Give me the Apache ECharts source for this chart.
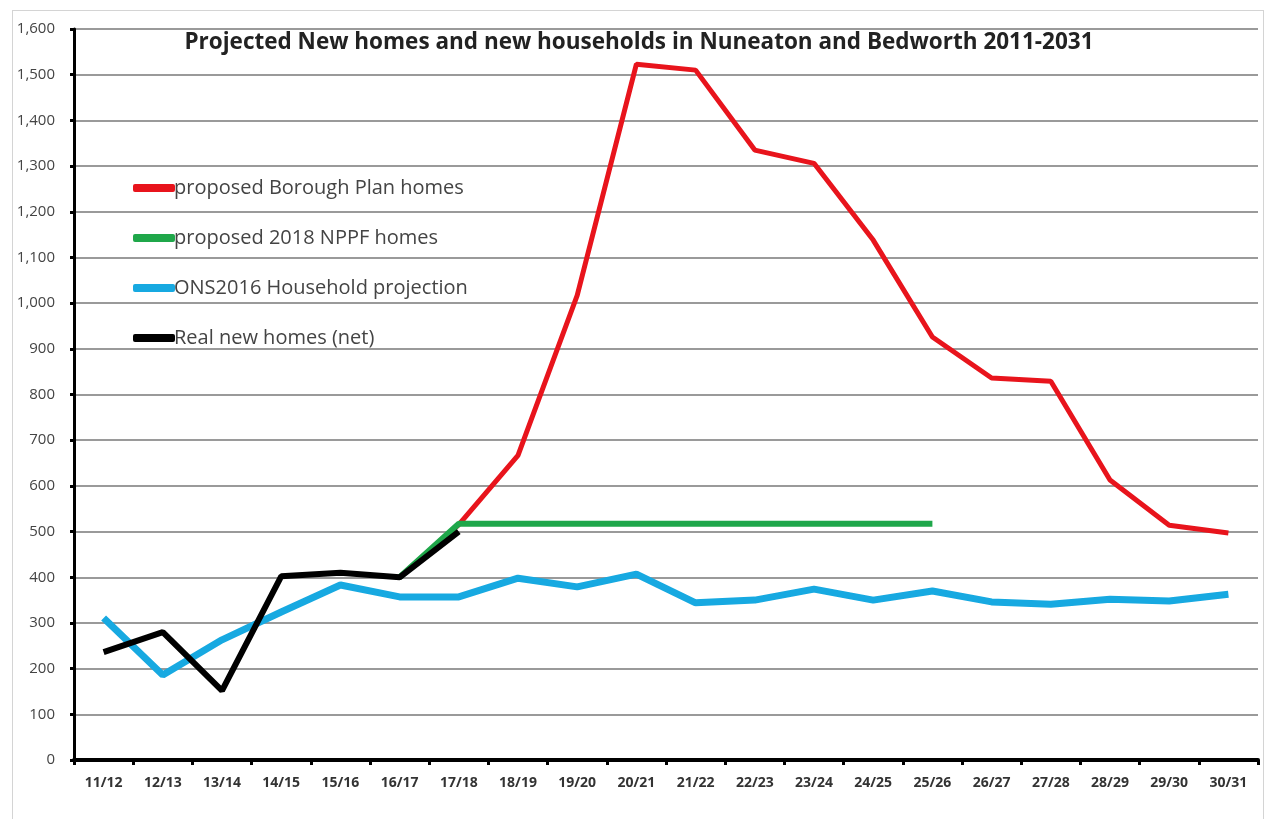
<!DOCTYPE html>
<html>
<head>
<meta charset="utf-8">
<script src="https://cdn.jsdelivr.net/npm/echarts@6/dist/echarts.min.js"></script>
<style>
  html, body { margin: 0; padding: 0; background: #fff; }
  #frame { position: absolute; left: 12px; top: 10px; width: 1252px; height: 830px; border: 1px solid #d4d4d4; box-sizing: border-box; }
  #chart { position: absolute; left: 0; top: 0; width: 1267px; height: 819px; }
</style>
</head>
<body>
<div id="frame"></div>
<div id="chart"></div>
<script>
const years = ['11/12', '12/13', '13/14', '14/15', '15/16', '16/17', '17/18', '18/19', '19/20', '20/21',
  '21/22', '22/23', '23/24', '24/25', '25/26', '26/27', '27/28', '28/29', '29/30', '30/31']

const boroughPlan = [null, null, null, null, null, 400, 515, 667, 1017, 1523,
  1510, 1335, 1306, 1138, 926, 836, 829, 613, 514, 497]
const nppf = [null, null, null, null, null, 400, 517, 517, 517, 517,
  517, 517, 517, 517, 517, null, null, null, null, null]
const onsProjection = [311, 186, 263, 324, 383, 357, 357, 398, 379, 407,
  344, 350, 374, 350, 370, 346, 341, 352, 348, 363]
const realHomes = [236, 280, 152, 402, 410, 400, 500, null, null, null,
  null, null, null, null, null, null, null, null, null, null]

const chart = echarts.init(document.getElementById('chart'))

const labelFont = '"Open Sans", Lato, sans-serif'

chart.setOption({
  animation: false,
  title: {
    text: 'Projected New homes and new households in Nuneaton and Bedworth 2011-2031',
    left: 634,
    textAlign: 'center',
    top: 26,
    textStyle: { fontFamily: labelFont, fontSize: 22.5, fontWeight: 'bold', color: '#222' }
  },
  legend: {
    orient: 'vertical',
    left: 128,
    top: 173,
    itemGap: 30,
    itemWidth: 42,
    itemHeight: 8,
    icon: 'roundRect',
    textStyle: { fontFamily: labelFont, fontSize: 20, color: '#444', padding: [0, 0, 0, -6] },
    data: ['proposed Borough Plan homes', 'proposed 2018 NPPF homes', 'ONS2016 Household projection', 'Real new homes (net)']
  },
  grid: { left: 74, right: 9, top: 29, bottom: 59 },
  xAxis: {
    type: 'category',
    data: years,
    boundaryGap: true,
    axisLine: { lineStyle: { color: '#000', width: 4 } },
    axisTick: { show: true, length: 5, lineStyle: { color: '#000', width: 3 } },
    axisLabel: { fontFamily: labelFont, fontSize: 14, fontWeight: 'bold', color: '#333', margin: 16 }
  },
  yAxis: {
    type: 'value',
    min: 0,
    max: 1600,
    interval: 100,
    axisLine: { show: true, lineStyle: { color: '#000', width: 3 } },
    axisTick: { show: true, length: 4, lineStyle: { color: '#000', width: 3 } },
    axisLabel: {
      fontFamily: labelFont, fontSize: 15, color: '#444', margin: 19,
      formatter: v => v.toLocaleString('en-GB')
    },
    splitLine: { lineStyle: { color: '#9a9a9a', width: 2 } }
  },
  series: [
    {
      name: 'proposed Borough Plan homes',
      type: 'line',
      data: boroughPlan,
      symbol: 'none',
      z: 2,
      lineStyle: { color: '#e8141c', width: 5 },
      itemStyle: { color: '#e8141c' }
    },
    {
      name: 'proposed 2018 NPPF homes',
      type: 'line',
      data: nppf,
      symbol: 'none',
      z: 3,
      lineStyle: { color: '#1fa74a', width: 6 },
      itemStyle: { color: '#1fa74a' }
    },
    {
      name: 'ONS2016 Household projection',
      type: 'line',
      data: onsProjection,
      symbol: 'none',
      z: 4,
      lineStyle: { color: '#17a9e1', width: 7 },
      itemStyle: { color: '#17a9e1' }
    },
    {
      name: 'Real new homes (net)',
      type: 'line',
      data: realHomes,
      symbol: 'none',
      z: 5,
      lineStyle: { color: '#000', width: 6 },
      itemStyle: { color: '#000' }
    }
  ]
})
</script>
</body>
</html>
